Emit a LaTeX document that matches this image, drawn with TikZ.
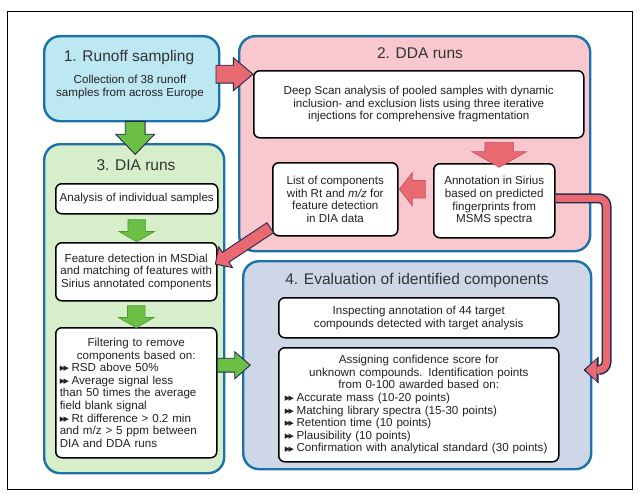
\documentclass[tikz,border=0pt]{standalone}
\usepackage{fontspec}
\setmainfont{Liberation Sans}
\newfontfamily\symfont{DejaVu Sans}
\usetikzlibrary{positioning,calc,shapes.arrows,arrows.meta}

\definecolor{stageblue}{HTML}{1B72A6}
\definecolor{cyanbg}{HTML}{BDE7F3}
\definecolor{pinkbg}{HTML}{F8C8CE}
\definecolor{greenbg}{HTML}{D6EEC9}
\definecolor{greybg}{HTML}{CDD7E7}
\definecolor{pinkA}{HTML}{E8696F}
\definecolor{pinkdark}{HTML}{C8505B}
\definecolor{greenA}{HTML}{6BBF45}
\definecolor{greendark}{HTML}{4E9A32}
\definecolor{navy}{HTML}{1F2A4F}
\definecolor{titlegrey}{HTML}{333333}
\definecolor{bodygrey}{HTML}{222222}

\newcommand{\dblarrow}{{\symfont\fontsize{7}{7}\selectfont\raisebox{0.8pt}{▶\kern-1.4pt▶}}\hspace{2.5pt}}

\tikzset{
	stage/.style={draw=stageblue, line width=2.4pt, rounded corners=16pt, inner sep=0pt, anchor=north west},
	stagetitle/.style={font=\fontsize{15.5}{17}\selectfont, text=titlegrey, inner sep=0pt},
	bodytext/.style={font=\fontsize{11.6}{12.3}\selectfont, text=bodygrey, align=center, inner sep=0pt},
	infobox/.style={draw=black, line width=1.5pt, rounded corners=6pt, fill=white, align=center, inner sep=3pt, anchor=north west, font=\fontsize{11.6}{12.6}\selectfont, text=bodygrey},
	blockarrow/.style={single arrow, line width=0.9pt, inner xsep=0pt, sloped, allow upside down},
	parrow/.style={blockarrow, draw=navy, fill=pinkA},
	garrow/.style={blockarrow, draw=navy, fill=greenA},
	pinkin/.style={blockarrow, draw=pinkdark, line width=0.6pt, fill=pinkA},
	greenin/.style={blockarrow, draw=greendark, line width=0.6pt, fill=greenA},
	elbowline/.style={draw=navy, line width=10pt, rounded corners=8pt, -{Triangle[width=27pt,length=15pt,line width=0pt]}},
	elbowfill/.style={draw=pinkA, line width=7pt, rounded corners=8pt, shorten >=2pt, -{Triangle[width=22pt,length=11pt,line width=0pt]}}
}

\begin{document}
\begin{tikzpicture}[x=1pt,y=-1pt]
	\useasboundingbox (0,0) rectangle (642,503);
	\draw[line width=0.8pt] (7,11) rectangle (632,489);

	% the four stages
	\node[stage, fill=cyanbg, minimum width=175, minimum height=85] (runoff) at (43,35) {};
	\node[stage, fill=pinkbg, minimum width=351, minimum height=215] (dda) at (238,35) {};
	\node[stage, fill=greenbg, minimum width=180, minimum height=329] (dia) at (43,143) {};
	\node[stage, fill=greybg, minimum width=348, minimum height=208] (evalbox) at (242,260) {};

	\node[stagetitle] (t1) at (129,57) {1. Runoff sampling};
	\node[bodytext] (runofftxt) at (130,87) {Collection of 38 runoff\\samples from across Europe};
	\node[stagetitle] (t2) at (420,53) {2. DDA runs};
	\node[stagetitle] (t3) at (136,165) {3. DIA runs};
	\node[stagetitle] (t4) at (417,280) {4. Evaluation of identified components};

	% DDA
	\node[infobox, minimum width=330, minimum height=67] (deep) at (253,70) {Deep Scan analysis of pooled samples with dynamic\\inclusion- and exclusion lists using three iterative\\injections for comprehensive fragmentation};
	\node[infobox, minimum width=121, minimum height=74] (annot) at (433,163) {Annotation in Sirius\\based on predicted\\fingerprints from\\MSMS spectra};
	\node[infobox, minimum width=125, minimum height=73] (clist) at (272,162) {List of components\\with Rt and \textit{m/z} for\\feature detection\\in DIA data};

	% DIA
	\node[infobox, minimum width=162, minimum height=30] (indiv) at (55,183) {Analysis of individual samples};
	\node[infobox, minimum width=161, minimum height=58] (feat) at (55,242) {Feature detection in MSDial\\and matching of features with\\Sirius annotated components};
	\node[infobox, minimum width=161, minimum height=130, text width=153, inner xsep=4pt, align=left] (filt) at (55,327) {{\centering Filtering to remove\\components based on:\par}
		\dblarrow RSD above 50\%\\
		\dblarrow Average signal less\\than 50 times the average\\field blank signal\\
		\dblarrow Rt difference > 0.2 min\\and m/z > 5 ppm between\\DIA and DDA runs};

	% evaluation
	\node[infobox, minimum width=280, minimum height=114, text width=268, inner xsep=6pt, align=left] (assign) at (278,347) {{\centering Assigning confidence score for\\unknown compounds. Identification points\\from 0-100 awarded based on:\par}
		\dblarrow Accurate mass (10-20 points)\\
		\dblarrow Matching library spectra (15-30 points)\\
		\dblarrow Retention time (10 points)\\
		\dblarrow Plausibility (10 points)\\
		\dblarrow Confirmation with analytical standard (30 points)};
	\node[infobox, minimum width=280, minimum height=40] (inspect) at (278,297) {Inspecting annotation of 44 target\\compounds detected with target analysis};

	% block arrows
	\path ($(runoff.east)+(0,-4.5)$) -- node[parrow, minimum height=37, inner ysep=8.5pt, single arrow head extend=7.5pt, single arrow tip angle=80] (a12) {} ($(runoff.east -| dda.west)+(0,-4.5)$);
	\path ($(runoff.south)+(3.5,0)$) -- node[garrow, minimum height=33, inner ysep=9.5pt, single arrow head extend=9.5pt, single arrow tip angle=88] (a13) {} ($(runoff.south |- dia.north)+(3.5,0)$);
	\path ($(deep.south -| annot.north)+(5,0)$) -- node[pinkin, minimum height=25, inner ysep=14pt, single arrow head extend=13pt, single arrow tip angle=120] (adeep) {} ($(annot.north)+(5,0)$);
	\path ($(annot.west)+(0,-11.5)$) -- node[pinkin, minimum height=26, inner ysep=8.5pt, single arrow head extend=8pt, single arrow tip angle=104] (aleft) {} ($(annot.west -| clist.east)+(0,-11.5)$);
	\path (indiv.south) -- node[greenin, minimum height=22, inner ysep=8.5pt, single arrow head extend=9pt, single arrow tip angle=120] (aind) {} (indiv.south |- feat.north);
	\path (feat.south) -- node[greenin, minimum height=22, inner ysep=8.5pt, single arrow head extend=9pt, single arrow tip angle=120] (afeat) {} (feat.south |- filt.north);
	\path (filt.east |- evalbox.west) -- node[garrow, minimum height=33, inner ysep=6.5pt, single arrow head extend=6.5pt, single arrow tip angle=82] (aeval) {} (evalbox.west);
	\path ($(clist.south west)+(0,-10)$) -- node[parrow, minimum height=66, inner ysep=5.5pt, single arrow head extend=6.5pt, single arrow tip angle=90] (adiag) {} ($(feat.north east)+(1,20)$);

	% elbow from Sirius to the scoring
	\coordinate (etip) at ($(assign.north east)+(24,23)$);
	\draw[elbowline] ($(annot.east)+(0,-2.5)$) -- ++(51,0) |- (etip);
	\draw[elbowfill] ($(annot.east)+(0,-2.5)$) -- ++(51,0) |- (etip);
\end{tikzpicture}
\end{document}
